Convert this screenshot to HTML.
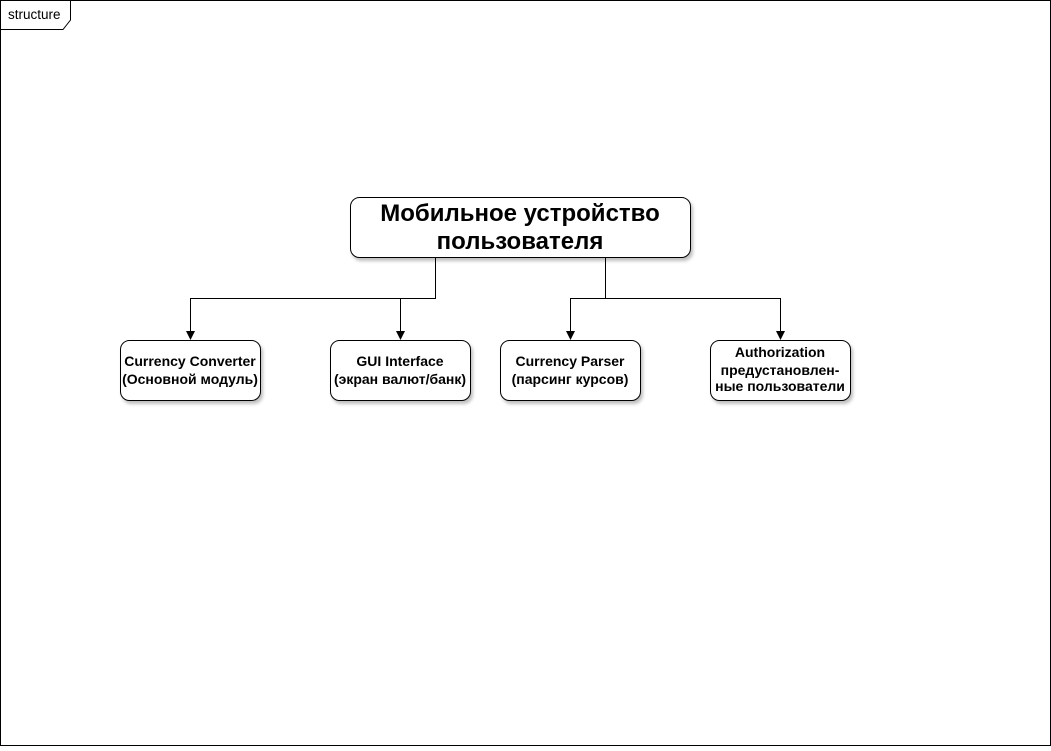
<!DOCTYPE html>
<html><head><meta charset="utf-8"><style>
body{margin:0;width:1051px;height:746px;background:#fff;overflow:hidden}
</style></head><body>
<svg width="1051" height="746" xmlns="http://www.w3.org/2000/svg" font-family="Liberation Sans, Arial, sans-serif">
<defs><filter id="s" x="-10%" y="-10%" width="130%" height="140%"><feDropShadow dx="2" dy="3" stdDeviation="1.5" flood-color="#000" flood-opacity="0.25"/></filter></defs>
<rect x="0.5" y="0.5" width="1050" height="745" fill="#fff" stroke="#000"/>
<path d="M0.5 29.5 H63 L70.5 20 V0.5" fill="none" stroke="#000"/>
<text x="8" y="19" font-size="13.5">structure</text>
<g fill="none" stroke="#000" stroke-width="1">
<path d="M435.5 257 V298.5 H190.5 V334"/>
<path d="M400.5 298.5 V334"/>
<path d="M605.5 257 V298.5 H570.5 V334"/>
<path d="M605.5 298.5 H780.5 V334"/>
</g>
<g fill="#000">
<path d="M186 331 L190.5 340 L195 331 Z"/>
<path d="M396 331 L400.5 340 L405 331 Z"/>
<path d="M566 331 L570.5 340 L575 331 Z"/>
<path d="M776 331 L780.5 340 L785 331 Z"/>
</g>
<g fill="#fff" stroke="#000" filter="url(#s)">
<rect x="350.5" y="197.5" width="340" height="60" rx="9"/>
<rect x="120.5" y="340.5" width="140" height="60" rx="9"/>
<rect x="330.5" y="340.5" width="140" height="60" rx="9"/>
<rect x="500.5" y="340.5" width="140" height="60" rx="9"/>
<rect x="710.5" y="340.5" width="140" height="60" rx="9"/>
</g>
<g text-anchor="middle" font-weight="bold">
<text x="520" y="221" font-size="24">Мобильное устройство</text>
<text x="520" y="249" font-size="24">пользователя</text>
<g font-size="14">
<text x="190" y="366">Currency Converter</text>
<text x="190" y="384">(Основной модуль)</text>
<text x="400" y="366">GUI Interface</text>
<text x="400" y="384">(экран валют/банк)</text>
<text x="570" y="366">Currency Parser</text>
<text x="570" y="384">(парсинг курсов)</text>
<text x="780" y="357">Authorization</text>
<text x="780" y="375">предустановлен-</text>
<text x="780" y="391">ные пользователи</text>
</g></g>
</svg>
</body></html>
